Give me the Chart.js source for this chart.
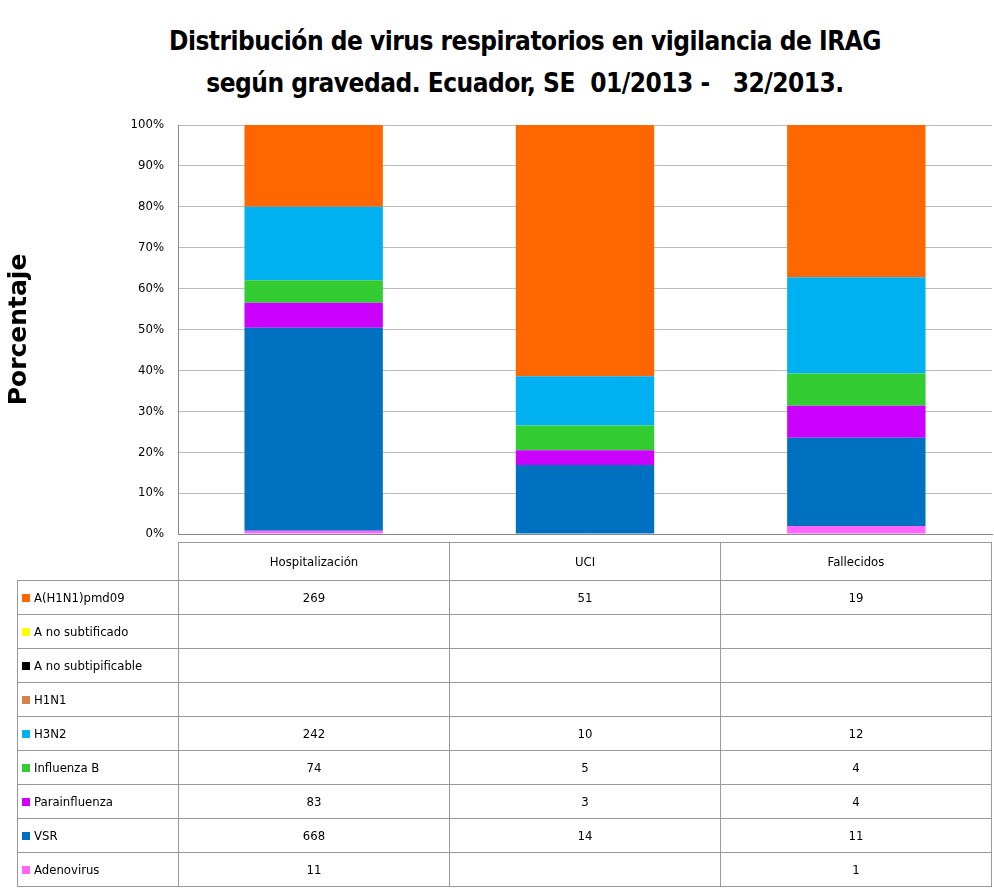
<!DOCTYPE html>
<html><head><meta charset="utf-8">
<script src="https://cdn.jsdelivr.net/npm/chart.js@4/dist/chart.umd.min.js"></script>
<style>
body{margin:0;background:#fff;font-family:"DejaVu Sans Condensed","Liberation Sans",sans-serif;}
#wrap{position:relative;width:994px;height:892px;}
#title{position:absolute;left:100px;width:850px;top:20px;text-align:center;font:bold 26px "DejaVu Sans Condensed","Liberation Sans",sans-serif;line-height:42px;color:#000;letter-spacing:-0.5px;}
canvas{position:absolute;left:0;top:0;}
table{position:absolute;left:17px;top:542px;border-collapse:collapse;font-size:13px;table-layout:fixed;}
td{border:1px solid #999;height:33px;padding:0;text-align:center;}
td.lab{text-align:left;width:156px;padding-left:4px;white-space:nowrap;}
td.v{width:270px;}
.sw{display:inline-block;width:8px;height:8px;margin-right:4px;}
</style></head><body>
<div id="wrap">
<div id="title">Distribución de virus respiratorios en vigilancia de IRAG<br>según gravedad. Ecuador, SE&nbsp; 01/2013 -&nbsp;&nbsp; 32/2013.</div>
<canvas id="c" width="994" height="892"></canvas>
<table id="t"></table>
</div>
<script>
const categories=["Hospitalización","UCI","Fallecidos"];
const seriesNames=["A(H1N1)pmd09","A no subtificado","A no subtipificable","H1N1","H3N2","Influenza  B","Parainfluenza","VSR","Adenovirus"];
const colors=["#FF6600","#FFFF00","#000000","#D9814B","#00B0F0","#33CC33","#CC00FF","#0070C0","#FF66FF"];
const A_H1N1pmd09=[269,51,19];
const A_noSubtificado=[null,null,null];
const A_noSubtipificable=[null,null,null];
const H1N1=[null,null,null];
const H3N2=[242,10,12];
const InfluenzaB=[74,5,4];
const Parainfluenza=[83,3,4];
const VSR=[668,14,11];
const Adenovirus=[11,null,1];
const values=[A_H1N1pmd09,A_noSubtificado,A_noSubtipificable,H1N1,H3N2,InfluenzaB,Parainfluenza,VSR,Adenovirus];
const totals=categories.map((_,i)=>values.reduce((s,a)=>s+(a[i]||0),0));
const yTicks=[0,10,20,30,40,50,60,70,80,90,100];

const datasets=[];
for(let k=values.length-1;k>=0;k--){
  datasets.push({label:seriesNames[k],data:values[k].map((v,i)=>(v||0)/totals[i]*100),backgroundColor:colors[k],barPercentage:0.51,categoryPercentage:1});
}
new Chart(document.getElementById('c'),{type:'bar',data:{labels:categories,datasets},
options:{responsive:false,animation:false,layout:{padding:{top:125,bottom:350,right:2,left:0}},
plugins:{legend:{display:false},tooltip:{enabled:false}},
scales:{x:{stacked:true,ticks:{display:false},grid:{display:false},border:{color:'#888'}},
y:{stacked:true,min:0,max:100,afterFit:s=>{s.width=178;},
afterBuildTicks:s=>{s.ticks=yTicks.map(v=>({value:v}));},
ticks:{callback:v=>v+'%',color:'#000',font:{size:13,family:'DejaVu Sans Condensed'},padding:14},
grid:{color:'#BBBBBB',drawTicks:false},border:{color:'#888'},
title:{display:true,text:'Porcentaje',color:'#000',font:{size:25,weight:'bold',family:'DejaVu Sans'},padding:{bottom:40}}}}}});

const t=document.getElementById('t');
let h='<tr><td style="border:none;width:160px"></td>'+categories.map(c=>'<td class="v" style="height:37px">'+c+'</td>').join('')+'</tr>';
seriesNames.forEach((n,k)=>{
  h+='<tr><td class="lab"><span class="sw" style="background:'+colors[k]+'"></span>'+n+'</td>'+values[k].map(v=>'<td class="v">'+(v==null?'':v)+'</td>').join('')+'</tr>';
});
t.innerHTML=h;
</script>
</body></html>
